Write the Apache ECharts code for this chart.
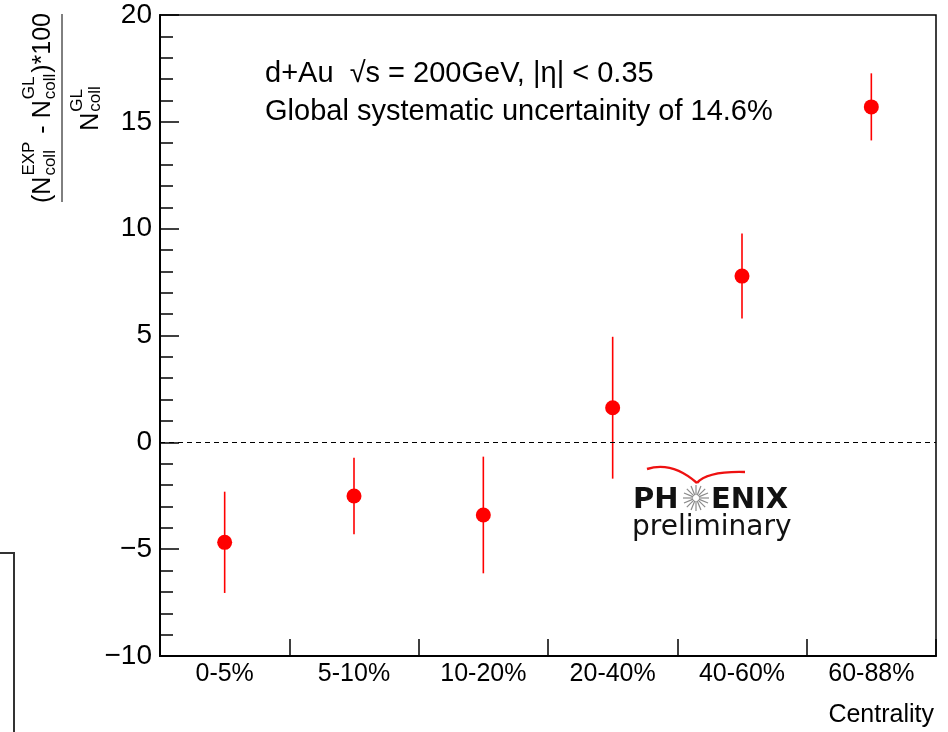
<!DOCTYPE html>
<html>
<head>
<meta charset="utf-8">
<script src="https://cdn.jsdelivr.net/npm/echarts@6/dist/echarts.min.js"></script>
<style>
  html, body { margin: 0; padding: 0; background: #fff; }
  #chart { width: 948px; height: 732px; }
</style>
</head>
<body>
<div id="chart"></div>
<script>
// Centrality classes and the relative deviation of N_coll (in %) with its uncertainty
const categories = ['0-5%', '5-10%', '10-20%', '20-40%', '40-60%', '60-88%'];
const deviation = [-4.68, -2.51, -3.40, 1.62, 7.78, 15.70];
const uncertainty = [2.37, 1.79, 2.73, 3.32, 1.99, 1.57];
const yMin = -10;
const yMax = 20;
const yStep = 5;
const infoLines = ['d+Au  \u221As = 200GeV, |\u03B7| < 0.35', 'Global systematic uncertainity of 14.6%'];
const xTitle = 'Centrality';

const SANS = '"Liberation Sans", Arial, Helvetica, sans-serif';
const DEJAVU = '"DejaVu Sans", sans-serif';

const measureCtx = document.createElement('canvas').getContext('2d');
function textWidth(str, size, family) {
  measureCtx.font = size + 'px ' + (family || SANS);
  return measureCtx.measureText(str).width;
}

// Place a text by its baseline (zrender draws with a 'middle' baseline)
function baselineText(str, x, baseline, size, align) {
  return {
    type: 'text', x: x, y: baseline - 0.35 * size, silent: true,
    style: { text: str, font: size + 'px ' + SANS, fill: '#000',
             textAlign: align || 'left', verticalAlign: 'middle', textVerticalAlign: 'middle' }
  };
}

// Lay out a formula made of plain runs and stacked super/subscripts, centred on u = 0
function formula(pieces, baseline, mainSize, smallSize, supShift, subShift) {
  const widths = pieces.map(p => p.main !== undefined
    ? textWidth(p.main, mainSize)
    : Math.max(textWidth(p.sup, smallSize), textWidth(p.sub, smallSize)) + 2);
  const total = widths.reduce((a, b) => a + b, 0);
  let u = -total / 2;
  const out = [];
  pieces.forEach((p, i) => {
    if (p.main !== undefined) {
      out.push(baselineText(p.main, u, baseline, mainSize));
    } else {
      out.push(baselineText(p.sup, u + 1, baseline + supShift, smallSize));
      out.push(baselineText(p.sub, u + 1, baseline + subShift, smallSize));
    }
    u += widths[i];
  });
  return out;
}

const numerator = formula([
  { main: '(N' }, { sup: 'EXP', sub: 'coll' },
  { main: ' - N' }, { sup: 'GL', sub: 'coll' },
  { main: ')*100' }
], -10, 25, 17, -17, 4);
const denominator = formula([
  { main: 'N' }, { sup: 'GL', sub: 'coll' }
], 38, 25, 17, -17, 1);

const yTitle = {
  type: 'group', x: 62, y: 108, rotation: Math.PI / 2, silent: true,
  children: [
    { type: 'line', shape: { x1: -94, y1: 0, x2: 94, y2: 0 }, style: { stroke: '#000', lineWidth: 1 } }
  ].concat(numerator, denominator)
};

// Logo rays
const starRays = [];
for (let k = 0; k < 16; k++) {
  const a = k * Math.PI / 8;
  starRays.push({
    type: 'line', silent: true,
    shape: { x1: 696 + 3 * Math.cos(a), y1: 498 + 3 * Math.sin(a), x2: 696 + 13 * Math.cos(a), y2: 498 + 13 * Math.sin(a) },
    style: { stroke: '#8a8a8a', lineWidth: 1.2 }
  });
}

const chart = echarts.init(document.getElementById('chart'), null, { renderer: 'canvas' });

chart.setOption({
  backgroundColor: '#fff',
  animation: false,
  grid: {
    left: 160, right: 12, top: 15, bottom: 76,
    show: true, borderColor: '#000', borderWidth: 1.5, backgroundColor: 'transparent'
  },
  xAxis: {
    type: 'category',
    data: categories,
    boundaryGap: true,
    axisLine: { onZero: false, lineStyle: { color: '#000', width: 2 } },
    axisTick: { show: true, inside: true, length: 17, alignWithLabel: false, lineStyle: { color: '#000', width: 1.5 } },
    axisLabel: { color: '#000', fontSize: 25, fontFamily: SANS, margin: 6 },
    splitLine: { show: false }
  },
  yAxis: {
    type: 'value',
    min: yMin, max: yMax, interval: yStep,
    axisLine: { show: true, onZero: false, lineStyle: { color: '#000', width: 2 } },
    axisTick: { show: true, inside: true, length: 19, lineStyle: { color: '#000', width: 1.5 } },
    minorTick: { show: true, splitNumber: 5, length: 13, lineStyle: { color: '#000', width: 1.5 } },
    axisLabel: {
      color: '#000', fontSize: 28, fontFamily: SANS, margin: 8,
      formatter: v => (v < 0 ? '\u2212' + Math.abs(v) : String(v))
    },
    splitLine: { show: false }
  },
  series: [
    {
      type: 'custom',
      name: 'uncertainty',
      data: categories.map((c, i) => [i, deviation[i], uncertainty[i]]),
      renderItem: (params, api) => {
        const i = api.value(0);
        const v = api.value(1);
        const e = api.value(2);
        const top = api.coord([i, v + e]);
        const bot = api.coord([i, v - e]);
        return {
          type: 'line',
          shape: { x1: top[0], y1: top[1], x2: bot[0], y2: bot[1] },
          style: { stroke: '#ff0000', lineWidth: 1.6 }
        };
      },
      z: 2
    },
    {
      type: 'scatter',
      name: 'deviation',
      data: deviation,
      symbol: 'circle',
      symbolSize: 15,
      itemStyle: { color: '#ff0000', opacity: 1 },
      z: 3,
      markLine: {
        silent: true, symbol: 'none', label: { show: false },
        lineStyle: { type: [5, 4], color: '#000', width: 1, opacity: 1 },
        data: [{ yAxis: 0 }]
      }
    }
  ],
  graphic: [
    yTitle,
    baselineText(infoLines[0], 265, 84, 29),
    baselineText(infoLines[1], 265, 122, 29),
    baselineText(xTitle, 934, 724, 25, 'right'),
    // corner frame at lower left
    { type: 'polyline', silent: true, shape: { points: [[0, 553], [14, 553], [14, 733]] },
      style: { stroke: '#333', lineWidth: 2, fill: null } },
    // PHENIX preliminary logo
    { type: 'bezierCurve', silent: true, shape: { x1: 647, y1: 469, cpx1: 672, cpy1: 461, x2: 697, y2: 483 },
      style: { stroke: '#ee1111', lineWidth: 2.4, fill: null } },
    { type: 'bezierCurve', silent: true, shape: { x1: 697, y1: 483, cpx1: 707, cpy1: 471, x2: 745, y2: 472 },
      style: { stroke: '#ee1111', lineWidth: 2.4, fill: null } },
    { type: 'text', x: 633, y: 500, silent: true,
      style: { text: 'PH', font: 'bold 29px ' + DEJAVU, fill: '#111', verticalAlign: 'middle', textVerticalAlign: 'middle' } },
    { type: 'text', x: 711, y: 500, silent: true,
      style: { text: 'ENIX', font: 'bold 29px ' + DEJAVU, fill: '#111', verticalAlign: 'middle', textVerticalAlign: 'middle' } },
    { type: 'text', x: 632, y: 528, silent: true,
      style: { text: 'preliminary', font: '28px ' + DEJAVU, fill: '#111', verticalAlign: 'middle', textVerticalAlign: 'middle' } }
  ].concat(starRays)
});
</script>
</body>
</html>
